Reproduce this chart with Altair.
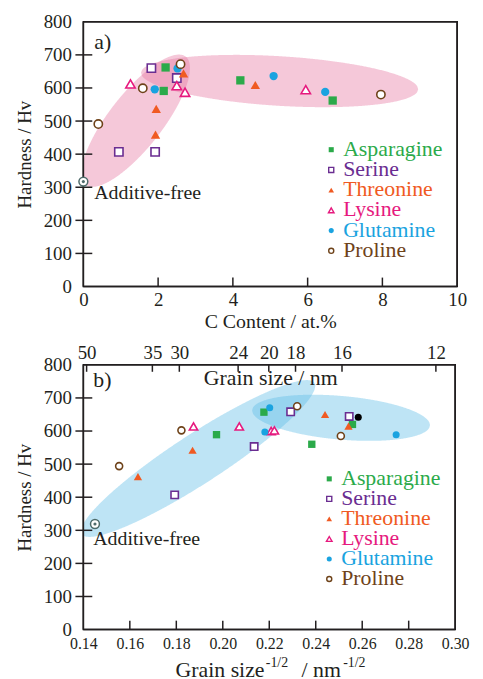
import altair as alt
import numpy as np
import pandas as pd

FONT = "Liberation Serif"
INK = "#231F20"

names = ["Asparagine", "Serine", "Threonine", "Lysine", "Glutamine", "Proline"]
colors = ["#2BAA4A", "#6A2D91", "#F05A22", "#E6197E", "#1AA3E0", "#6E4219"]
shapes = ["square", "square", "triangle-up", "triangle-up", "circle", "circle"]
filled = [True, False, True, False, True, False]

# ---------------- panel a : hardness vs C content ----------------
a_asparagine_x = [2.20, 2.15, 4.20, 6.67]
a_asparagine_y = [662, 591, 623, 562]
a_serine_x = [1.82, 2.50, 0.95, 1.92]
a_serine_y = [660, 630, 407, 407]
a_threonine_x = [2.68, 1.95, 1.93, 4.60]
a_threonine_y = [644, 537, 459, 609]
a_lysine_x = [1.26, 2.50, 2.72, 5.95]
a_lysine_y = [612, 607, 587, 595]
a_glutamine_x = [2.52, 1.91, 5.09, 6.47]
a_glutamine_y = [659, 596, 636, 588]
a_proline_x = [2.60, 1.59, 0.40, 7.96]
a_proline_y = [672, 599, 491, 580]
a_free_x = [0.0]
a_free_y = [317]

# ---------------- panel b : Hall-Petch ----------------
b_asparagine_x = [0.1973, 0.2177, 0.2383, 0.2558]
b_asparagine_y = [589, 657, 560, 620]
b_serine_x = [0.1793, 0.2135, 0.2292, 0.2544]
b_serine_y = [407, 553, 658, 644]
b_threonine_x = [0.1635, 0.1870, 0.2440, 0.2541]
b_threonine_y = [462, 542, 650, 615]
b_lysine_x = [0.1874, 0.2071, 0.2208, 0.2222]
b_lysine_y = [614, 614, 600, 602]
b_glutamine_x = [0.2202, 0.2181, 0.2746]
b_glutamine_y = [670, 597, 589]
b_proline_x = [0.1554, 0.1822, 0.2320, 0.2508]
b_proline_y = [494, 602, 675, 585]
b_other_x = [0.2583]
b_other_y = [642]
b_free_x = [0.1450]
b_free_y = [319]

# top (grain size) axis of panel b: labels and where their ticks sit on the lower scale
grain_labels = ["50", "35", "30", "24", "20", "18", "16", "12"]
grain_tick_pos = [0.1414, 0.1697, 0.1813, 0.2066, 0.2198, 0.2313, 0.2513, 0.2917]

hard_ticks = [100, 200, 300, 400, 500, 600, 700]
c_ticks = [0, 2, 4, 6, 8, 10]
gs_ticks = [0.14, 0.16, 0.18, 0.20, 0.22, 0.24, 0.26, 0.28, 0.30]

a_series = [(a_asparagine_x, a_asparagine_y), (a_serine_x, a_serine_y),
            (a_threonine_x, a_threonine_y), (a_lysine_x, a_lysine_y),
            (a_glutamine_x, a_glutamine_y), (a_proline_x, a_proline_y)]
b_series = [(b_asparagine_x, b_asparagine_y), (b_serine_x, b_serine_y),
            (b_threonine_x, b_threonine_y), (b_lysine_x, b_lysine_y),
            (b_glutamine_x, b_glutamine_y), (b_proline_x, b_proline_y)]

# highlight ellipses: centre (data), half-length / half-width (px), angle (deg)
a_ellipses = [(1.40, 501, 82, 27, 52), (5.25, 621, 140, 25, -3.5)]
b_ellipses = [(0.1894, 517, 140, 25, 33), (0.2509, 640, 90, 22, -5)]


def ellipse_df(cx, cy, a_px, b_px, ang, ppx, ppy, n=300):
    t = np.deg2rad(ang)
    c, s = np.cos(t), np.sin(t)
    xmax = np.sqrt((a_px * c) ** 2 + (b_px * s) ** 2)
    X = np.linspace(-xmax, xmax, n)
    A = s * s / a_px ** 2 + c * c / b_px ** 2
    B = 2 * X * c * s * (1 / a_px ** 2 - 1 / b_px ** 2)
    C = X * X * (c * c / a_px ** 2 + s * s / b_px ** 2) - 1
    D = np.clip(B * B - 4 * A * C, 0, None)
    hi = (-B + np.sqrt(D)) / (2 * A)
    lo = (-B - np.sqrt(D)) / (2 * A)
    return pd.DataFrame({"x": cx + X / ppx, "hi": cy + hi / ppy, "lo": cy + lo / ppy})


class Panel:
    def __init__(self, W, H, xdom, xaxis, yaxis):
        self.W, self.H, self.xdom = W, H, xdom
        self.xs = alt.Scale(domain=xdom, nice=False, zero=False)
        self.ys = alt.Scale(domain=[0, 800], nice=False)
        self.ppx = W / (xdom[1] - xdom[0])
        self.ppy = H / 800.0
        self.xaxis = xaxis
        self.yaxis = yaxis

    def dx(self, px):
        return self.xdom[0] + px / self.ppx

    def dy(self, py):
        return 800 - py / self.ppy

    def X(self, f, axis="default"):
        return alt.X(f, scale=self.xs, axis=self.xaxis if axis == "default" else axis)

    def Y(self, f):
        return alt.Y(f, scale=self.ys, axis=self.yaxis)

    def text(self, t, px, py, size, color=INK, align="left"):
        df = pd.DataFrame({"t": [t], "x": [self.dx(px)], "y": [self.dy(py)]})
        return alt.Chart(df).mark_text(font=FONT, fontSize=size, color=color, align=align,
                                       baseline="middle").encode(
            text="t:N", x=self.X("x:Q"), y=self.Y("y:Q"))

    def rules(self, df, xf, x2f, yf, y2f, axis="default"):
        enc = dict(x=self.X(xf, axis), y=self.Y(yf))
        if x2f:
            enc["x2"] = x2f
        if y2f:
            enc["y2"] = y2f
        return alt.Chart(df).mark_rule(color=INK, strokeWidth=1.5).encode(**enc)


def make_yaxis(labpad):
    return alt.Axis(values=list(range(0, 900, 100)), ticks=False, domain=False, grid=False,
                    labelFont=FONT, labelFontSize=19, labelColor=INK, labelPadding=labpad,
                    title="Hardness / Hv", titleFont=FONT, titleFontSize=19,
                    titleFontWeight="normal", titleColor=INK, titlePadding=9)


def build(P, series, free, ellipses, ell_color, sizes, legend_pos, letter,
          letter_pos, free_text_pos, extra=None, other=None, first_xaxis="default"):
    layers = []
    for k, (cx, cy, a_px, b_px, ang) in enumerate(ellipses):
        df = ellipse_df(cx, cy, a_px, b_px, ang, P.ppx, P.ppy)
        layers.append(alt.Chart(df).mark_area(color=ell_color, opacity=0.4, clip=True).encode(
            x=P.X("x:Q", first_xaxis if k == 0 else "default"), y=P.Y("hi:Q"), y2="lo:Q"))
    # frame of the plot and ticks crossing the left axis
    xl, xr = P.xdom
    vdf = pd.DataFrame({"x": [xl, xr], "y0": [0, 0], "y1": [800, 800]})
    layers.append(P.rules(vdf, "x:Q", None, "y0:Q", "y1:Q"))
    hdf = pd.DataFrame({"x0": [xl, xl], "x1": [xr, xr], "y": [0, 800]})
    layers.append(P.rules(hdf, "x0:Q", "x1:Q", "y:Q", None))
    tdf = pd.DataFrame({"v": hard_ticks, "x0": P.dx(-8), "x1": P.dx(9)})
    layers.append(P.rules(tdf, "x0:Q", "x1:Q", "v:Q", None))
    if extra is not None:
        layers.extend(extra(P))
    # data
    for i, (xv, yv) in enumerate(series):
        df = pd.DataFrame({"x": xv, "y": yv})
        kw = dict(shape=shapes[i], size=sizes[shapes[i]], opacity=1)
        if filled[i]:
            kw.update(filled=True, fill=colors[i], strokeWidth=0)
        else:
            kw.update(filled=False, fill="white", fillOpacity=1, stroke=colors[i], strokeWidth=1.6)
        layers.append(alt.Chart(df).mark_point(**kw).encode(x=P.X("x:Q"), y=P.Y("y:Q")))
    if other is not None:
        layers.append(alt.Chart(pd.DataFrame({"x": other[0], "y": other[1]})).mark_point(
            shape="circle", filled=True, fill="black", size=sizes["circle"], opacity=1).encode(
            x=P.X("x:Q"), y=P.Y("y:Q")))
    fdf = pd.DataFrame({"x": free[0], "y": free[1]})
    layers.append(alt.Chart(fdf).mark_point(shape="circle", filled=False, fill="white", fillOpacity=1,
                                            stroke="#4E6B6B", strokeWidth=1.5, size=80, opacity=1).encode(
        x=P.X("x:Q"), y=P.Y("y:Q")))
    layers.append(alt.Chart(fdf).mark_point(shape="circle", filled=True, fill="#4E6B6B", size=10,
                                            opacity=1).encode(x=P.X("x:Q"), y=P.Y("y:Q")))
    # labels
    layers.append(P.text(letter, letter_pos[0], letter_pos[1], 22))
    layers.append(P.text("Additive-free", free_text_pos[0], free_text_pos[1], 20))
    # legend
    lx, ly, step = legend_pos
    for i, nm in enumerate(names):
        yy = ly + step * i
        layers.append(P.text(nm, lx + 12, yy, 22, color=colors[i]))
        kw = dict(shape=shapes[i], size=26 if shapes[i] != "triangle-up" else 32, opacity=1)
        if filled[i]:
            kw.update(filled=True, fill=colors[i], strokeWidth=0)
        else:
            kw.update(filled=False, fill="white", fillOpacity=1, stroke=colors[i], strokeWidth=1.4)
        mdf = pd.DataFrame({"x": [P.dx(lx)], "y": [P.dy(yy + 1)]})
        layers.append(alt.Chart(mdf).mark_point(**kw).encode(x=P.X("x:Q"), y=P.Y("y:Q")))
    return alt.layer(*layers).properties(width=P.W, height=P.H)


# ---- panel a
xaxis_a = alt.Axis(values=c_ticks, ticks=False, domain=False, grid=False, labelFont=FONT,
                   labelFontSize=19, labelColor=INK, labelPadding=4, labelFlush=False,
                   title="C Content /  at.%", titleFont=FONT, titleFontSize=20,
                   titleFontWeight="normal", titleColor=INK, titlePadding=2)
PA = Panel(377, 267, [0, 10], xaxis_a, make_yaxis(12))


def extra_a(P):
    df = pd.DataFrame({"v": c_ticks[1:-1], "y0": P.dy(P.H - 9), "y1": P.dy(P.H)})
    return [P.rules(df, "v:Q", None, "y0:Q", "y1:Q")]


pa = build(PA, a_series, (a_free_x, a_free_y), a_ellipses, "#E6769F",
           {"square": 70, "triangle-up": 90, "circle": 70},
           (250, 128, 20.4), "a)", (11, 20), (11, 173), extra=extra_a)

# ---- panel b (independent x axes: bottom on one layer, top on one layer, none elsewhere)
xaxis_b = alt.Axis(values=gs_ticks, format=".2f", ticks=False, domain=False, grid=False,
                   labelFont=FONT, labelFontSize=16, labelColor=INK, labelPadding=6,
                   labelFlush=False, title=None)
label_expr = "".join(f"abs(datum.value - {p}) < 0.0005 ? '{l}' : "
                     for p, l in zip(grain_tick_pos, grain_labels)) + "''"
top_axis = alt.Axis(orient="top", values=grain_tick_pos, labelExpr=label_expr, ticks=False,
                    domain=False, grid=False, labelFont=FONT, labelFontSize=19, labelColor=INK,
                    labelPadding=2, labelFlush=False, title=None)
PB = Panel(375, 267, [0.14, 0.30], None, make_yaxis(12))


def extra_b(P):
    top = pd.DataFrame({"v": grain_tick_pos, "y0": P.dy(0), "y1": P.dy(7)})
    bot = pd.DataFrame({"v": gs_ticks[1:-1], "y0": P.dy(P.H - 9), "y1": P.dy(P.H)})
    return [
        P.rules(top, "v:Q", None, "y0:Q", "y1:Q", axis=top_axis),
        P.rules(bot, "v:Q", None, "y0:Q", "y1:Q"),
        P.text("Grain size / nm", 189, 13, 22, align="center"),
        P.text("Grain size", 93, P.H + 41, 22),
        P.text("-1/2", 184, P.H + 34, 14),
        P.text("/ nm", 220, P.H + 41, 22),
        P.text("-1/2", 262, P.H + 34, 14),
    ]


pb = build(PB, b_series, (b_free_x, b_free_y), b_ellipses, "#5CBBE6",
           {"square": 55, "triangle-up": 70, "circle": 50},
           (248, 114, 20.2), "b)", (10, 15), (10, 176), extra=extra_b,
           other=(b_other_x, b_other_y), first_xaxis=xaxis_b)
pb = pb.resolve_axis(x="independent")

chart = alt.vconcat(pa, pb, spacing=11).properties(
    padding={"top": 1, "left": 6, "right": 5, "bottom": 1}
).configure_view(stroke="black", strokeWidth=1.5).configure_axis(labelFont=FONT)

chart.save("out.html", embed_options={"renderer": "svg", "actions": False})
